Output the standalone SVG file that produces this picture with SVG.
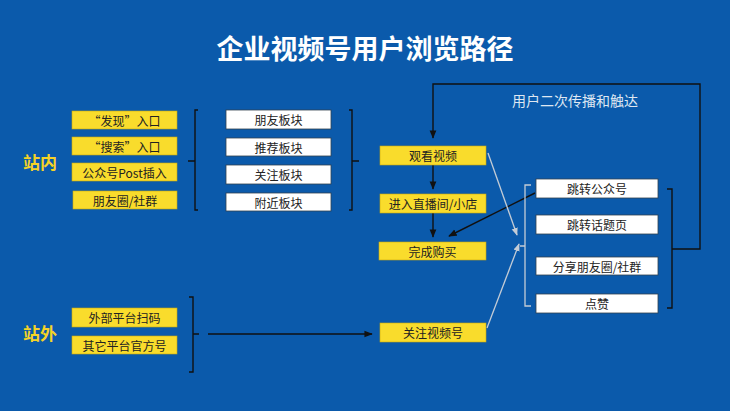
<svg xmlns="http://www.w3.org/2000/svg" width="730" height="411" viewBox="0 0 730 411">
<defs>
<style>
text{font-family:"Noto Sans CJK SC","Liberation Sans",sans-serif;}
.y{fill:#f9dc2c;stroke:#c9a80f;stroke-width:0.6;}
.w{fill:#ffffff;stroke:#33414f;stroke-width:0.8;}
.t{font-size:12px;fill:#222;text-anchor:middle;dominant-baseline:central;}
.lab{font-size:17px;font-weight:bold;fill:#f5d327;dominant-baseline:central;}
.bk{fill:none;stroke:#111;stroke-width:1.4;}
.gr{fill:none;stroke:#c4ccd6;stroke-width:1.3;}
</style>
<marker id="ab" viewBox="0 0 10 10" refX="9" refY="5" markerWidth="6" markerHeight="6" orient="auto"><path d="M0,1 L10,5 L0,9 z" fill="#111"/></marker>
<marker id="ag" viewBox="0 0 10 10" refX="9" refY="5" markerWidth="6" markerHeight="6" orient="auto"><path d="M0,1 L10,5 L0,9 z" fill="#c4ccd6"/></marker>
</defs>
<rect width="730" height="411" fill="#0b5aab"/>
<text x="365" y="47" font-size="27" font-weight="bold" fill="#ffffff" text-anchor="middle" dominant-baseline="central">企业视频号用户浏览路径</text>
<text class="lab" x="23" y="161">站内</text>
<text class="lab" x="23" y="332">站外</text>
<g id="connectors">
<path class="bk" d="M198,110 H195 V210 H198 M195,161 H188"/>
<path class="bk" d="M349,110 H352 V210 H349 M352,161 H359"/>
<path class="bk" d="M189,297 H193 V372 H189 M193,334 H199"/>
<path class="bk" d="M208,334 H372" marker-end="url(#ab)"/>
<path class="bk" d="M433,165 V189" marker-end="url(#ab)"/>
<path class="bk" d="M433,213 V237" marker-end="url(#ab)"/>
<path class="bk" d="M535,193 L449,236" marker-end="url(#ab)"/>
<path class="bk" d="M667,189 H672 V308 H667 M672,249 H700 V84 H433 V138" marker-end="url(#ab)"/>
<path class="gr" d="M531,185 H525 V306 H531 M525,246 H520"/>
<path class="gr" d="M488,153 L517,235" marker-end="url(#ag)"/>
<path class="gr" d="M487,328 L519,244" marker-end="url(#ag)"/>
</g>
<text x="575" y="100" font-size="14" fill="#dfe7f2" text-anchor="middle" dominant-baseline="central">用户二次传播和触达</text>
<g id="n1"><rect class="y" x="72" y="111" width="105" height="18"/><text class="t" x="124.5" y="120">“发现”入口</text></g>
<g id="n2"><rect class="y" x="72" y="137" width="105" height="18"/><text class="t" x="124.5" y="146">“搜索”入口</text></g>
<g id="n3"><rect class="y" x="72" y="163" width="105" height="18"/><text class="t" x="124.5" y="172">公众号Post插入</text></g>
<g id="n4"><rect class="y" x="73" y="191" width="104" height="18"/><text class="t" x="125" y="200">朋友圈/社群</text></g>
<g id="n5"><rect class="w" x="226" y="110" width="105" height="19"/><text class="t" x="278.5" y="119.5">朋友板块</text></g>
<g id="n6"><rect class="w" x="226" y="138" width="105" height="18"/><text class="t" x="278.5" y="147">推荐板块</text></g>
<g id="n7"><rect class="w" x="226" y="165" width="105" height="19"/><text class="t" x="278.5" y="174.5">关注板块</text></g>
<g id="n8"><rect class="w" x="226" y="193" width="105" height="18"/><text class="t" x="278.5" y="202">附近板块</text></g>
<g id="n9"><rect class="y" x="72" y="308" width="105" height="19"/><text class="t" x="124.5" y="317.5">外部平台扫码</text></g>
<g id="n10"><rect class="y" x="72" y="336" width="105" height="18"/><text class="t" x="124.5" y="345">其它平台官方号</text></g>
<g id="n11"><rect class="y" x="380" y="146" width="106" height="19"/><text class="t" x="433" y="155.5">观看视频</text></g>
<g id="n12"><rect class="y" x="380" y="194" width="106" height="19"/><text class="t" x="433" y="203.5">进入直播间/小店</text></g>
<g id="n13"><rect class="y" x="379" y="242" width="107" height="18"/><text class="t" x="432.5" y="251">完成购买</text></g>
<g id="n14"><rect class="y" x="380" y="323" width="106" height="19"/><text class="t" x="433" y="332.5">关注视频号</text></g>
<g id="n15"><rect class="w" x="536" y="179" width="122" height="19"/><text class="t" x="597" y="188.5">跳转公众号</text></g>
<g id="n16"><rect class="w" x="536" y="215" width="122" height="19"/><text class="t" x="597" y="224.5">跳转话题页</text></g>
<g id="n17"><rect class="w" x="536" y="257" width="122" height="18"/><text class="t" x="597" y="266">分享朋友圈/社群</text></g>
<g id="n18"><rect class="w" x="536" y="294" width="122" height="19"/><text class="t" x="597" y="303.5">点赞</text></g>
</svg>
